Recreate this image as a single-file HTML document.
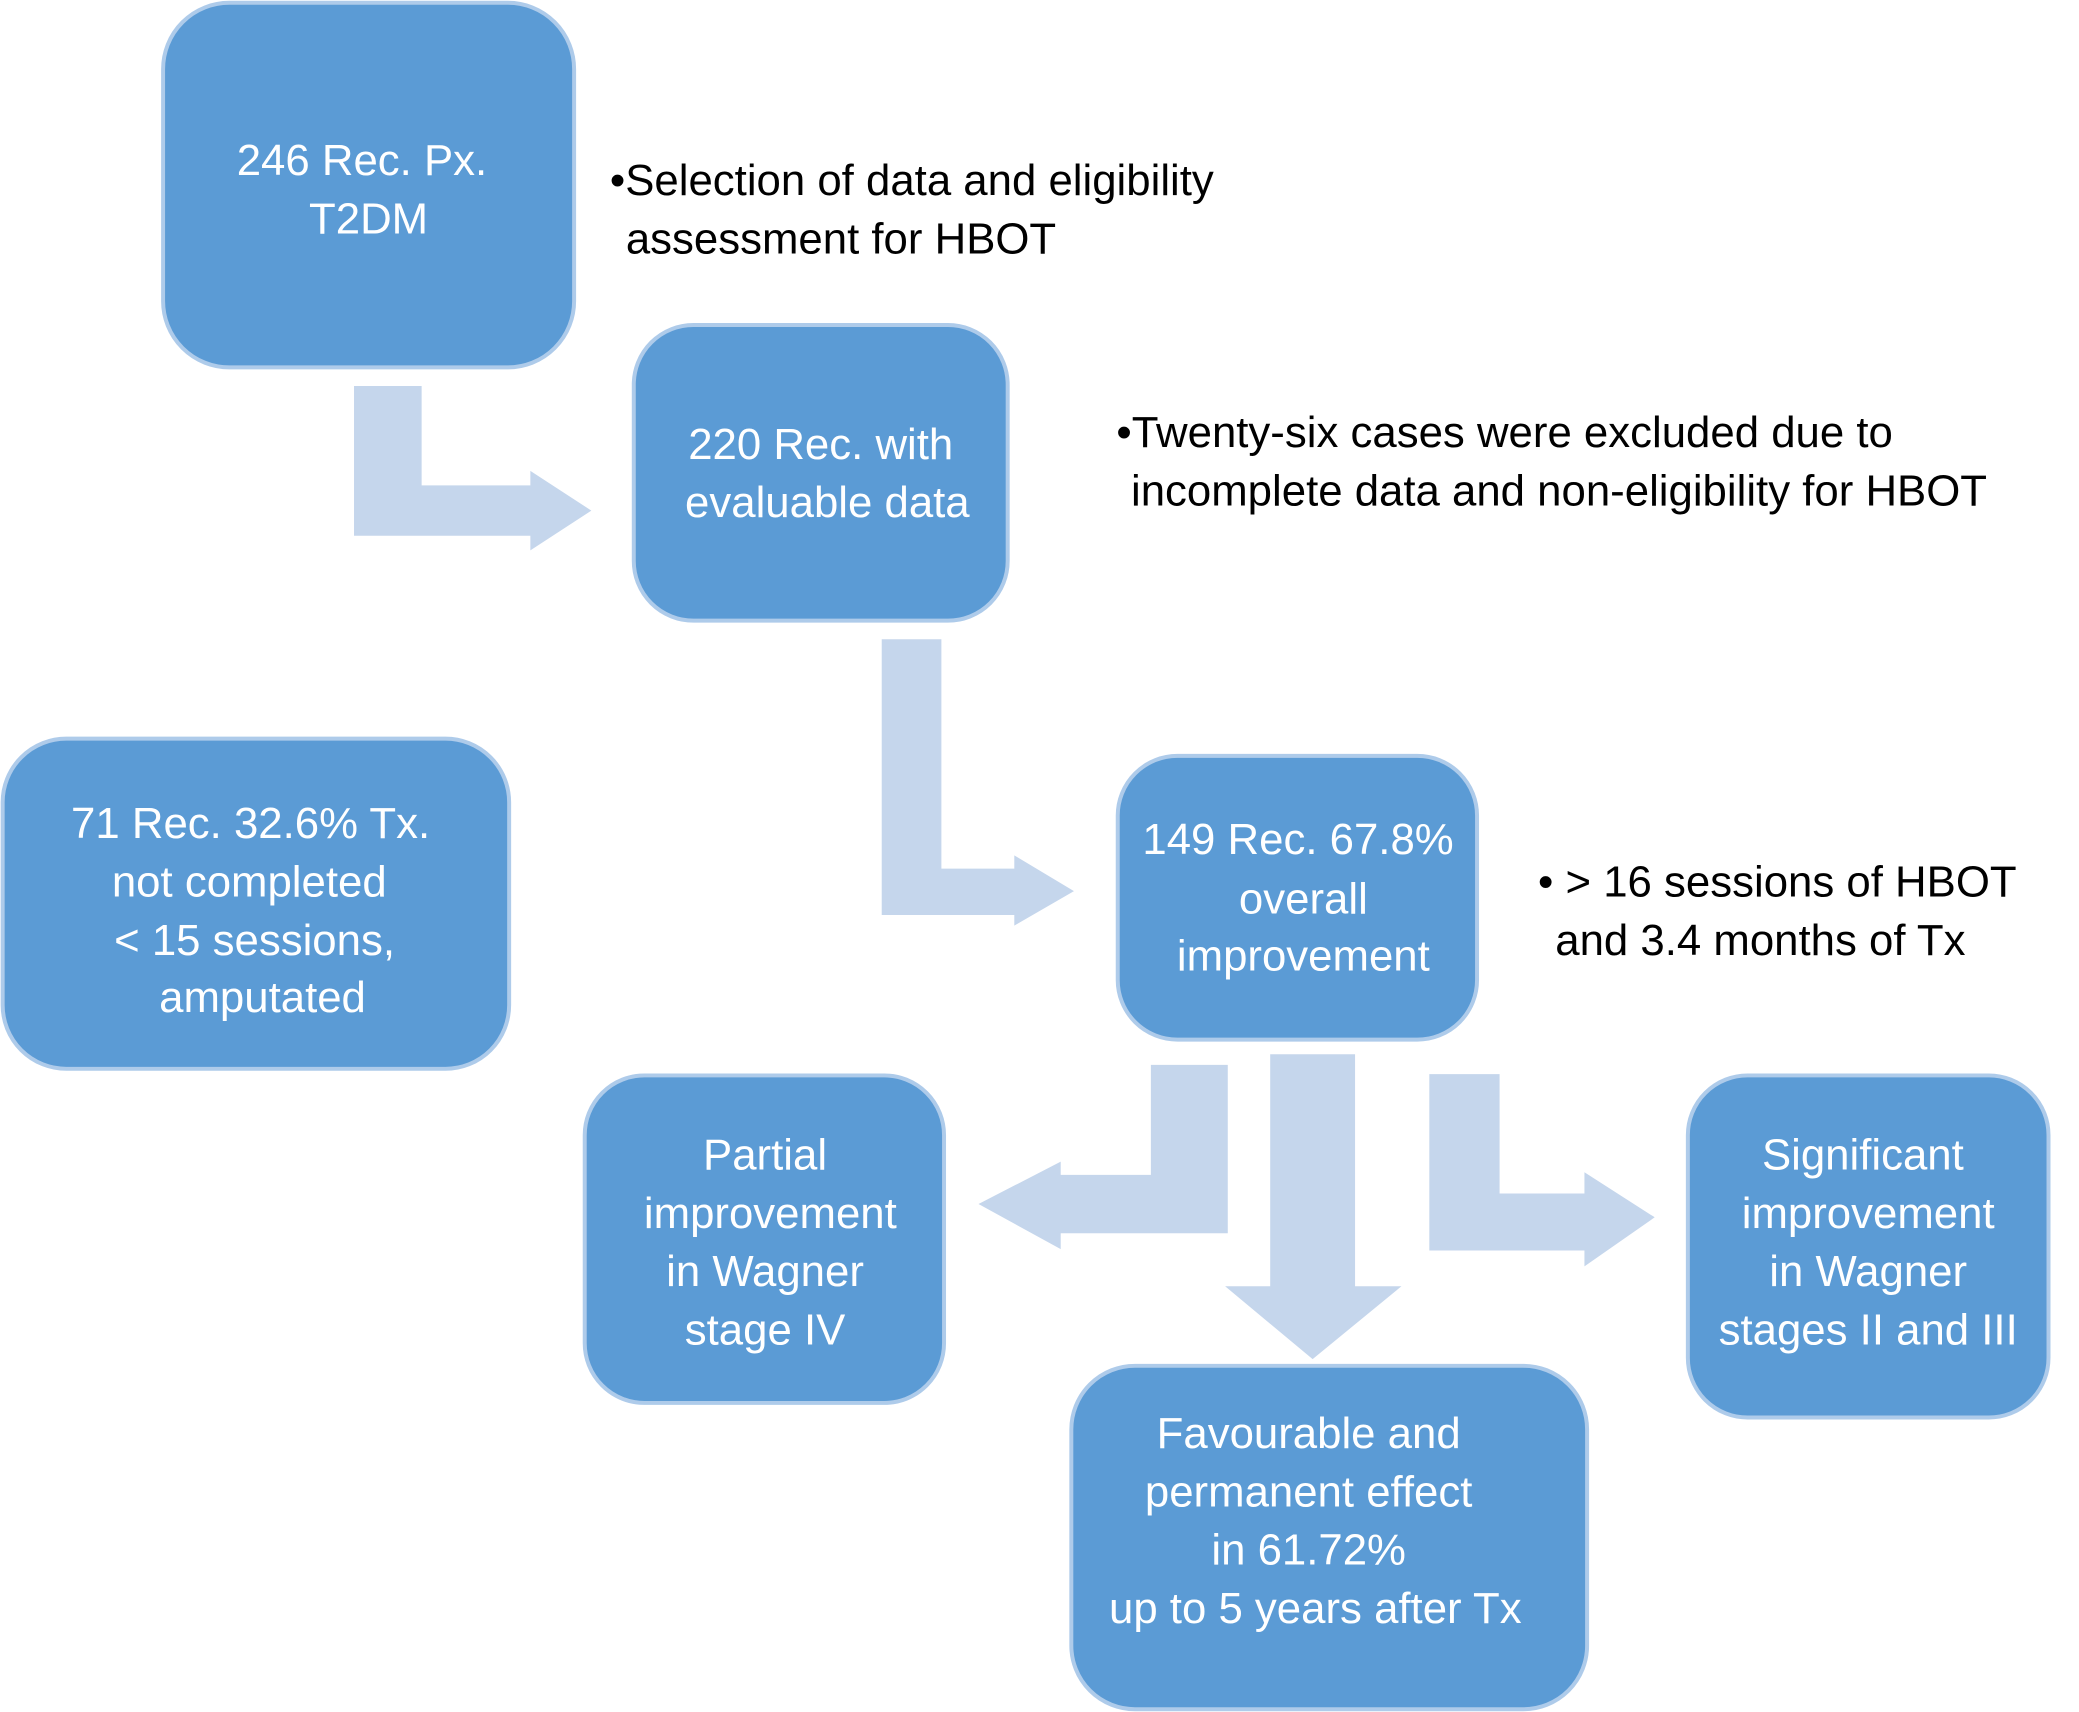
<!DOCTYPE html>
<html><head><meta charset="utf-8"><style>html,body{margin:0;padding:0;background:#fff}svg{display:block}</style></head>
<body>
<svg width="2079" height="1712" viewBox="0 0 1568 1291" xmlns="http://www.w3.org/2000/svg" font-family="Liberation Sans, sans-serif">
<g fill="#c5d6ec">
<polygon points="267,291 318,291 318,366 400,366 400,355 446,385 400,415 400,404 267,404"/>
<polygon points="665,482 710,482 710,655 765,655 765,645 810,672 765,698 765,690 665,690"/>
<polygon points="926,803 926,930 800,930 800,942 738,908 800,876 800,886 868,886 868,803"/>
<polygon points="958,795 1022,795 1022,970 1057,970 990,1025 924,970 958,970"/>
<polygon points="1078,810 1131,810 1131,900 1195,900 1195,884 1248,918 1195,955 1195,943 1078,943"/>
</g>
<g fill="#5b9bd5" stroke="#aecbea" stroke-width="3">
<rect x="123" y="2" width="310" height="275" rx="50"/>
<rect x="478" y="245" width="282" height="223" rx="45"/>
<rect x="2" y="557" width="382" height="249" rx="48"/>
<rect x="843" y="570" width="271" height="214" rx="45"/>
<rect x="441" y="811" width="271" height="247" rx="45"/>
<rect x="1273" y="811" width="272" height="258" rx="45"/>
<rect x="808" y="1030" width="389" height="259" rx="48"/>
</g>
<g fill="#fff" font-size="33" text-anchor="middle">
<text x="273" y="132">246 Rec. Px.</text><text x="278" y="176">T2DM</text>
<text x="619" y="346">220 Rec. with</text><text x="624" y="390">evaluable data</text>
<text x="189" y="632">71 Rec. 32.6% Tx.</text><text x="188" y="676">not completed</text><text x="192" y="720">&lt; 15 sessions,</text><text x="198" y="763">amputated</text>
<text x="979" y="644">149 Rec. 67.8%</text><text x="983" y="689">overall</text><text x="983" y="732">improvement</text>
<text x="577" y="882">Partial</text><text x="581" y="926">improvement</text><text x="577" y="970">in Wagner</text><text x="577" y="1014">stage IV</text>
<text x="1405" y="882">Significant</text><text x="1409" y="926">improvement</text><text x="1409" y="970">in Wagner</text><text x="1409" y="1014">stages II and III</text>
<text x="987" y="1092">Favourable and</text><text x="987" y="1136">permanent effect</text><text x="987" y="1180">in 61.72%</text><text x="992" y="1224">up to 5 years after Tx</text>
</g>
<g fill="#000" font-size="33">
<text x="460" y="147">•Selection of data and eligibility</text>
<text x="472" y="191">assessment for HBOT</text>
<text x="842" y="337">•Twenty-six cases were excluded due to</text>
<text x="853" y="381">incomplete data and non-eligibility for HBOT</text>
<text x="1160" y="676">• &gt; 16 sessions of HBOT</text>
<text x="1173" y="720">and 3.4 months of Tx</text>
</g>
</svg>
</body></html>
